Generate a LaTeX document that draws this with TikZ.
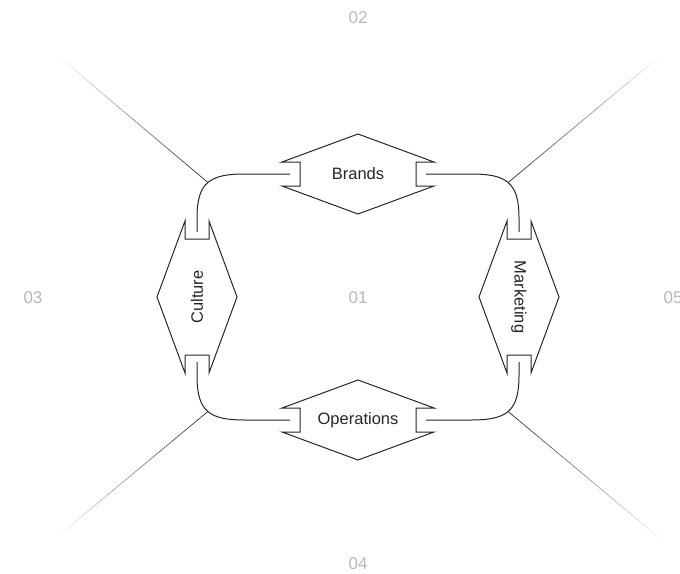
\documentclass[tikz,border=0pt]{standalone}
\usepackage{fontspec}
\setmainfont{Liberation Sans}
\usetikzlibrary{calc}
\definecolor{ink}{HTML}{262626}
\definecolor{numgray}{HTML}{B8B8B8}
\tikzset{
  lbl/.style={font=\fontsize{16.5}{18}\selectfont, text=ink, inner sep=0pt},
  num/.style={font=\fontsize{17}{19}\selectfont, text=numgray, inner sep=0pt},
  hexline/.style={draw=ink, line width=1pt, line join=miter},
  conn/.style={draw=ink, line width=1pt},
}
\newcommand\hexhoriz[1]{%
  \draw[hexline] ($(#1)+(0,-40)$) -- ++(76,28) -- ++(-18,0) -- ++(0,24) -- ++(18,0)
    -- ++(-76,28) -- ++(-76,-28) -- ++(18,0) -- ++(0,-24) -- ++(-18,0) -- cycle;}
\newcommand\hexvert[1]{%
  \draw[hexline] ($(#1)+(-40,0)$) -- ++(28,-76) -- ++(0,18) -- ++(24,0) -- ++(0,-18)
    -- ++(28,76) -- ++(-28,76) -- ++(0,-18) -- ++(-24,0) -- ++(0,18) -- cycle;}
\newcommand\fadeline[2]{%
  \foreach \i in {0,...,39}{%
    \pgfmathsetmacro\fa{\i/40}%
    \pgfmathsetmacro\fb{(\i+1.02)/40}%
    \pgfmathsetmacro\fc{80*(1-\i/40)}%
    \draw[black!\fc, line width=0.75pt] ($(#1)!\fa!(#2)$) -- ($(#1)!\fb!(#2)$);
  }}
\begin{document}
\begin{tikzpicture}[x=1pt,y=-1pt]
\useasboundingbox (0,0) rectangle (680,573);

% numbers
\node[num] (n01) at (358,298) {01};
\node[num] (n02) at (358,18) {02};
\node[num] (n03) at (33,298) {03};
\node[num] (n04) at (358,564) {04};
\node[num] (n05) at (673,298) {05};

% labels
\node[lbl] (brands) at (358,174) {Brands};
\node[lbl] (operations) at (358,420) {Operations};
\node[lbl, rotate=90] (culture) at (197,297) {Culture};
\node[lbl, rotate=-90] (marketing) at (519,297) {Marketing};

% shapes
\hexhoriz{brands}
\hexhoriz{operations}
\hexvert{culture}
\hexvert{marketing}

% connector end points
\coordinate (bL) at ($(brands.center)+(-68,0)$);
\coordinate (bR) at ($(brands.center)+(68,0)$);
\coordinate (oL) at ($(operations.center)+(-68,0)$);
\coordinate (oR) at ($(operations.center)+(68,0)$);
\coordinate (cT) at ($(culture.center)+(0,-65)$);
\coordinate (cB) at ($(culture.center)+(0,65)$);
\coordinate (mT) at ($(marketing.center)+(0,-65)$);
\coordinate (mB) at ($(marketing.center)+(0,65)$);

% connectors
\draw[conn] (cT) -- (197,218) .. controls (197,182) and (210,174) .. (245,174)
  coordinate[pos=0.5] (kTL) -- (bL);
\draw[conn] (bR) -- (471,174) .. controls (506,174) and (519,182) .. (519,218)
  coordinate[pos=0.5] (kTR) -- (mT);
\draw[conn] (cB) -- (197,376) .. controls (197,412) and (210,420) .. (245,420)
  coordinate[pos=0.5] (kBL) -- (oL);
\draw[conn] (oR) -- (471,420) .. controls (506,420) and (519,412) .. (519,376)
  coordinate[pos=0.5] (kBR) -- (mB);

% outer ends of fading rays
\coordinate (eTL) at (58,56);
\coordinate (eTR) at (660,56);
\coordinate (eBL) at (58,536);
\coordinate (eBR) at (662,540);

\fadeline{kTL}{eTL}
\fadeline{kTR}{eTR}
\fadeline{kBL}{eBL}
\fadeline{kBR}{eBR}
\end{tikzpicture}
\end{document}
